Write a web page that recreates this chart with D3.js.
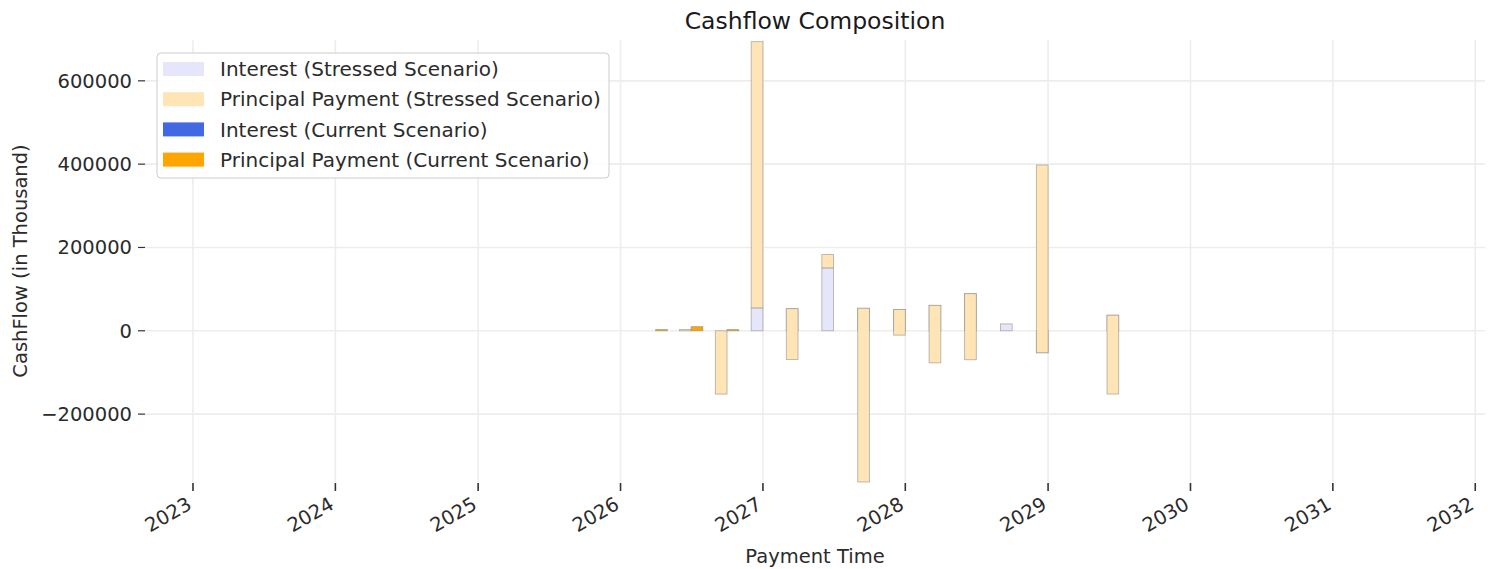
<!DOCTYPE html>
<html>
<head>
<meta charset="utf-8">
<script src="https://cdn.jsdelivr.net/npm/d3@7"></script>
<style>
    body { margin: 0; background: #fff; }
    text { font-family: "DejaVu Sans", sans-serif; }
</style>
</head>
<body>
<div id="chart"></div>
<script>
// quarterly payment dates
const payDates = ["2026-04-01", "2026-07-01", "2026-10-01", "2027-01-01", "2027-04-01", "2027-07-01",
    "2027-10-01", "2028-01-01", "2028-04-01", "2028-07-01", "2028-10-01", "2029-01-01", "2029-04-01", "2029-07-01"];

// stressed scenario (principal is stacked on interest)
const stressedInterest = [0, 0, 0, 55000, 53000, 151000, 54000, 51000, 61000, 89000, 16500, -52700, 0, 37400];
const stressedPrincipal = [0, 3000, -152000, 639000, -122000, 32000, -417000, -61500, -138000, -158500, 0, 450700, 0, -189300];

// current scenario
const currentInterest = [0, 0, 0, 0, 0, 0, 0, 0, 0, 0, 0, 0, 0, 0];
const currentPrincipal = [3000, 10000, 3000, 0, 0, 0, 0, 0, 0, 0, 0, 0, 0, 0];

const yTicks = [-200000, 0, 200000, 400000, 600000];
const yearTicks = [2023, 2024, 2025, 2026, 2027, 2028, 2029, 2030, 2031, 2032];

const legendItems = [
    {label: "Interest (Stressed Scenario)", color: "#E6E6FA"},
    {label: "Principal Payment (Stressed Scenario)", color: "#FFE4B5"},
    {label: "Interest (Current Scenario)", color: "#4169E1"},
    {label: "Principal Payment (Current Scenario)", color: "#FFA500"}
];

const W = 1492, H = 569;
const margin = {top: 40, right: 7, bottom: 87, left: 145};
const width = W - margin.left - margin.right;
const height = H - margin.top - margin.bottom;

const parse = d3.timeParse("%Y-%m-%d");
const DAY = 24 * 3600 * 1000;
const barDays = 30;

const svg = d3.select("#chart").append("svg")
    .attr("width", W)
    .attr("height", H);

const x = d3.scaleTime()
    .domain([parse("2022-08-31"), parse("2032-01-26")])
    .range([0, width]);

const y = d3.scaleLinear()
    .domain([-363000, 698000])
    .range([height, 0]);

const plot = svg.append("g")
    .attr("transform", `translate(${margin.left},${margin.top})`);

// grid
plot.append("g").selectAll("line.hgrid")
    .data(yTicks).enter().append("line")
    .attr("x1", 0).attr("x2", width)
    .attr("y1", d => y(d)).attr("y2", d => y(d))
    .attr("stroke", "#ededed").attr("stroke-width", 1.6);

plot.append("g").selectAll("line.vgrid")
    .data(yearTicks).enter().append("line")
    .attr("x1", d => x(new Date(d, 0, 1))).attr("x2", d => x(new Date(d, 0, 1)))
    .attr("y1", 0).attr("y2", height)
    .attr("stroke", "#ededed").attr("stroke-width", 1.6);

// build rows for the stacked bars
let rows = payDates.map((d, i) => ({
    date: parse(d),
    sI: stressedInterest[i], sP: stressedPrincipal[i],
    cI: currentInterest[i], cP: currentPrincipal[i]
}));

function drawBars(cls, color, lo, hi, x0, x1) {
    plot.append("g").attr("class", cls).selectAll("rect")
        .data(rows.filter(r => lo(r) !== hi(r)))
        .enter().append("rect")
        .attr("x", r => x(x0(r)))
        .attr("width", r => x(x1(r)) - x(x0(r)))
        .attr("y", r => y(Math.max(lo(r), hi(r))))
        .attr("height", r => Math.abs(y(lo(r)) - y(hi(r))))
        .attr("fill", color)
        .attr("stroke", "#808080")
        .attr("stroke-opacity", 0.55)
        .attr("stroke-width", 0.9);
}

// stressed bars sit left of the date, current bars right of it
const leftEdge = r => new Date(r.date.getTime() - barDays * DAY);
const rightEdge = r => new Date(r.date.getTime() + barDays * DAY);

drawBars("s-int", legendItems[0].color, r => 0, r => r.sI, leftEdge, r => r.date);
drawBars("s-prin", legendItems[1].color, r => r.sI, r => r.sI + r.sP, leftEdge, r => r.date);
drawBars("c-int", legendItems[2].color, r => 0, r => r.cI, r => r.date, rightEdge);
drawBars("c-prin", legendItems[3].color, r => r.cI, r => r.cI + r.cP, r => r.date, rightEdge);

// y axis ticks + labels
const yAxis = plot.append("g");
yAxis.selectAll("line").data(yTicks).enter().append("line")
    .attr("x1", -7).attr("x2", 0)
    .attr("y1", d => y(d)).attr("y2", d => y(d))
    .attr("stroke", "#333").attr("stroke-width", 1.2);
yAxis.selectAll("text").data(yTicks).enter().append("text")
    .attr("x", -13)
    .attr("y", d => y(d))
    .attr("dy", "0.36em")
    .attr("text-anchor", "end")
    .attr("font-size", 19.5)
    .attr("fill", "#2b2b2b")
    .text(d => d3.format("d")(d).replace("-", "\u2212"));

// x axis ticks + rotated labels (right end hangs below the tick)
const xAxis = plot.append("g").attr("transform", `translate(0,${height})`);
xAxis.selectAll("line").data(yearTicks).enter().append("line")
    .attr("x1", d => x(new Date(d, 0, 1))).attr("x2", d => x(new Date(d, 0, 1)))
    .attr("y1", 1).attr("y2", 9)
    .attr("stroke", "#333").attr("stroke-width", 1.6);
xAxis.selectAll("text").data(yearTicks).enter().append("text")
    .attr("transform", d => `translate(${x(new Date(d, 0, 1))},${26}) rotate(-30)`)
    .attr("text-anchor", "end")
    .attr("font-size", 19.5)
    .attr("fill", "#2b2b2b")
    .text(d => d);

// titles
svg.append("text")
    .attr("x", margin.left + width / 2)
    .attr("y", 29)
    .attr("text-anchor", "middle")
    .attr("font-size", 23.5)
    .attr("fill", "#1a1a1a")
    .text("Cashflow Composition");

svg.append("text")
    .attr("x", margin.left + width / 2)
    .attr("y", 563)
    .attr("text-anchor", "middle")
    .attr("font-size", 19.5)
    .attr("fill", "#2b2b2b")
    .text("Payment Time");

svg.append("text")
    .attr("transform", `translate(27,${margin.top + height / 2}) rotate(-90)`)
    .attr("text-anchor", "middle")
    .attr("font-size", 19.5)
    .attr("fill", "#2b2b2b")
    .text("CashFlow (in Thousand)");

// legend
const legend = svg.append("g").attr("transform", "translate(157,53)");
legend.append("rect")
    .attr("width", 452).attr("height", 125)
    .attr("rx", 4)
    .attr("fill", "#fff").attr("fill-opacity", 0.85)
    .attr("stroke", "#ccc").attr("stroke-width", 1);

const li = legend.selectAll("g.item").data(legendItems).enter().append("g")
    .attr("transform", (d, i) => `translate(0,${16 + i * 30.2})`);
li.append("rect")
    .attr("x", 6).attr("y", -7)
    .attr("width", 41).attr("height", 14)
    .attr("fill", d => d.color);
li.append("text")
    .attr("x", 63).attr("dy", "0.36em")
    .attr("font-size", 20)
    .attr("fill", "#2b2b2b")
    .text(d => d.label);
</script>
</body>
</html>
